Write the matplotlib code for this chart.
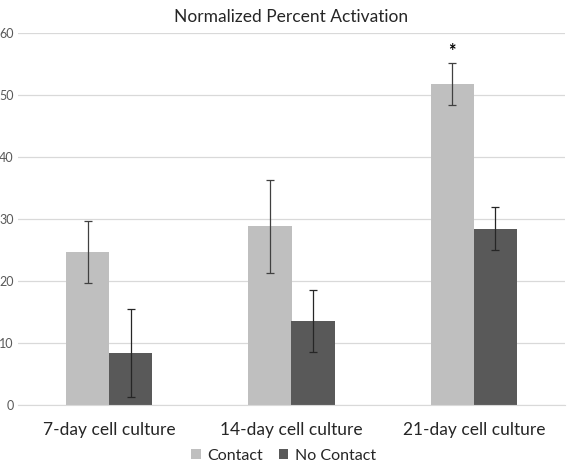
import numpy as np
import matplotlib.pyplot as plt

plt.rcParams['font.family'] = ['Lato', 'DejaVu Sans']

groups = ["7-day cell culture", "14-day cell culture", "21-day cell culture"]
contact = [24.6, 28.8, 51.8]
contact_err = [5.0, 7.45, 3.35]
no_contact = [8.45, 13.6, 28.45]
no_contact_err = [7.1, 5.0, 3.5]

x = np.arange(len(groups))
w = 0.236

fig = plt.figure(figsize=(5.67, 4.63), dpi=100)
ax = fig.add_axes([18 / 567, 1 - 405 / 463, 547 / 567, 372 / 463])

ax.bar(x - w / 2, contact, w, color="#BFBFBF", label="Contact", zorder=2)
ax.bar(x + w / 2, no_contact, w, color="#595959", label="No Contact", zorder=2)
ax.errorbar(x - w / 2, contact, yerr=contact_err, fmt="none", ecolor="#404040",
            elinewidth=0.9, capsize=3, capthick=0.9, zorder=3)
ax.errorbar(x + w / 2, no_contact, yerr=no_contact_err, fmt="none", ecolor="#262626",
            elinewidth=0.9, capsize=3, capthick=0.9, zorder=3)

# significance marker
ax.text(x[2] - w / 2, contact[2] + contact_err[2] + 0.5, "*", ha="center", va="bottom",
        fontsize=13, fontweight="bold", color="#000000")

ax.set_xlim(-0.5, 2.5)
ax.set_ylim(0, 60)
ax.set_yticks(range(0, 61, 10))
ax.set_xticks(x)
ax.set_xticklabels(groups, fontsize=12.5, color="#262626")
ax.tick_params(axis="y", labelsize=9, colors="#595959", length=0, pad=3)
ax.tick_params(axis="x", length=0, pad=12)
ax.grid(axis="y", color="#D9D9D9", linewidth=0.9, zorder=0)
for s in ["top", "right", "left"]:
    ax.spines[s].set_visible(False)
ax.spines["bottom"].set_color("#D9D9D9")

ax.set_title("Normalized Percent Activation", fontsize=12.5, color="#262626", pad=8)

fig.legend(loc="center", ncol=2, frameon=False, fontsize=11.5,
           bbox_to_anchor=(0.5, 0.016), handlelength=0.6, handleheight=0.6,
           handletextpad=0.4, columnspacing=1.0, labelcolor="#262626")

fig.savefig("out.png", dpi=100)
